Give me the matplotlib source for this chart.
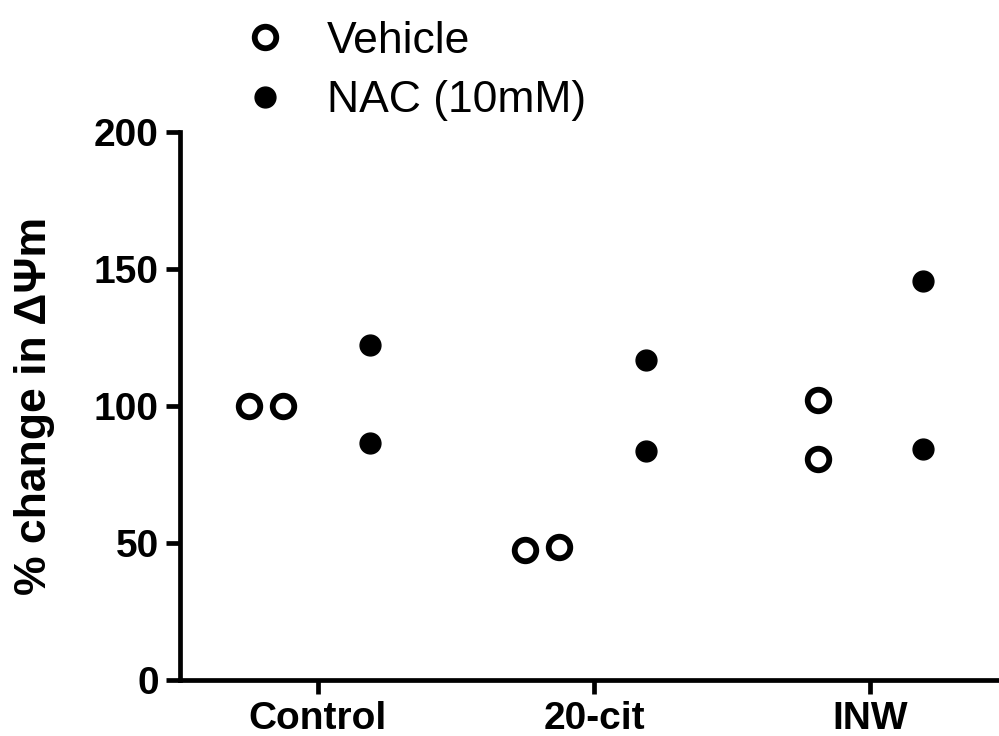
import numpy as np
import matplotlib
matplotlib.use("Agg")
import matplotlib.pyplot as plt
from matplotlib.lines import Line2D

plt.rcParams['font.family'] = ['Liberation Sans', 'DejaVu Sans']

# data
groups = ['Control', '20-cit', 'INW']
vehicle = [[100.0, 100.0], [47.4, 48.4], [102.2, 80.7]]
nac = [[122.3, 86.4], [116.8, 83.6], [145.7, 84.2]]
# horizontal spread of the points inside a group (column scatter)
vehicle_jitter = [[-0.062, 0.062], [-0.062, 0.062], [0.0, 0.0]]
nac_jitter = [[0.0, 0.0], [0.0, 0.0], [0.0, 0.0]]

fig = plt.figure(figsize=(9.99, 7.36), dpi=100)
ax = fig.add_axes([0.180, 0.076, 0.82, 0.745])

for i in range(len(groups)):
    xs = i - 0.187 + np.array(vehicle_jitter[i])
    ax.plot(xs, vehicle[i], 'o', ls='none', ms=15.5, mfc='white', mec='black', mew=4.2, clip_on=False)
    xs = i + 0.19 + np.array(nac_jitter[i])
    ax.plot(xs, nac[i], 'o', ls='none', ms=15, mfc='black', mec='black', mew=1, clip_on=False)

ax.set_xlim(-0.5, 2.467)
ax.set_ylim(0, 200)
ax.set_yticks([0, 50, 100, 150, 200])
ax.set_xticks(range(len(groups)))
ax.set_xticklabels(groups)

for s in ['top', 'right']:
    ax.spines[s].set_visible(False)
for s in ['left', 'bottom']:
    ax.spines[s].set_linewidth(3.4)
ax.tick_params(axis='both', width=3.4, length=10, labelsize=28, pad=5)
for lab in ax.get_xticklabels() + ax.get_yticklabels():
    lab.set_fontweight('bold')

ax.set_ylabel('% change in ΔΨm', fontsize=32, fontweight='bold', labelpad=28)

handles = [
    Line2D([], [], marker='o', ls='none', ms=15.5, mfc='white', mec='black', mew=4.2),
    Line2D([], [], marker='o', ls='none', ms=15, mfc='black', mec='black', mew=1),
]
leg = fig.legend(handles, ['Vehicle', 'NAC (10mM)'], loc='upper left',
                 bbox_to_anchor=(0.203, 1.026), frameon=False, fontsize=32,
                 handlelength=1.0, handletextpad=0.9, labelspacing=0.41)

fig.savefig('out.png', dpi=100)
